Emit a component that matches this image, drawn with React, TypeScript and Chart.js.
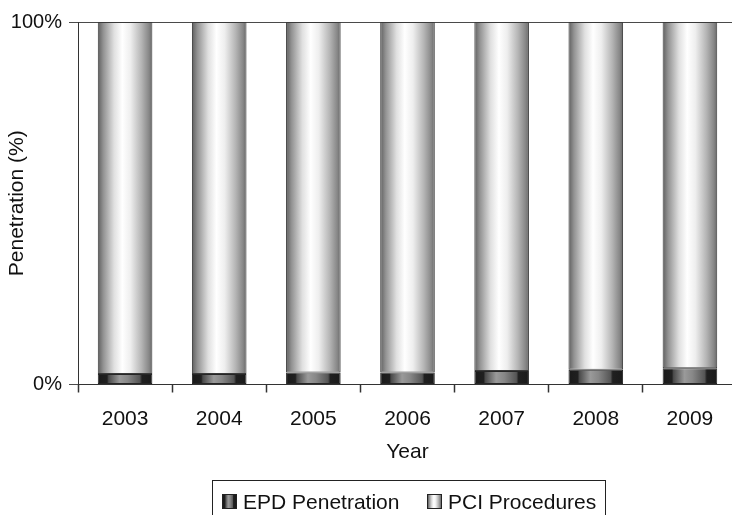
import React, { useEffect, useRef } from 'react';
import { Chart, registerables } from 'chart.js';

Chart.register(...registerables);

// ---- data ----
const years = ['2003', '2004', '2005', '2006', '2007', '2008', '2009'];
const epdPenetration = [2.9, 2.9, 3.3, 3.3, 3.7, 4.1, 4.5];
const pciProcedures = [97.1, 97.1, 96.7, 96.7, 96.3, 95.9, 95.5];
const yTickValues = [0, 100];
const seriesNames = ['EPD Penetration', 'PCI Procedures'];
const xTitle = 'Year';
const yTitle = 'Penetration (%)';

// ---- styles ----
const FONT = '"Liberation Sans", Arial, Helvetica, sans-serif';
const BAR_PCT = 0.58;

const epdStops: [number, string][] = [
  [0, '#1a1a1a'],
  [0.17, '#202020'],
  [0.2, '#4a4a4a'],
  [0.4, '#9a9a9a'],
  [0.55, '#878787'],
  [0.77, '#555555'],
  [0.81, '#202020'],
  [1, '#1a1a1a'],
];
const pciStops: [number, string][] = [
  [0, '#5e5e5e'],
  [0.1, '#929292'],
  [0.3, '#e0e0e0'],
  [0.45, '#ffffff'],
  [0.6, '#eeeeee'],
  [0.8, '#b5b5b5'],
  [0.94, '#868686'],
  [1, '#666666'],
];

function cssGradient(stops: [number, string][]) {
  return `linear-gradient(to right, ${stops.map(([o, c]) => `${c} ${o * 100}%`).join(', ')})`;
}

function barGradient(stops: [number, string][]) {
  return (ctx: any) => {
    const chart = ctx.chart;
    const area = chart.chartArea;
    const xs = chart.scales && chart.scales.x;
    if (!area || !xs || ctx.dataIndex == null) return stops[3][1];
    const cx = xs.getPixelForValue(ctx.dataIndex);
    const w = (area.width / years.length) * BAR_PCT;
    const g = chart.ctx.createLinearGradient(cx - w / 2, 0, cx + w / 2, 0);
    stops.forEach(([o, c]) => g.addColorStop(o, c));
    return g;
  };
}

export default function App() {
  const canvasRef = useRef<HTMLCanvasElement | null>(null);

  useEffect(() => {
    document.body.style.margin = '0';
    const canvas = canvasRef.current;
    if (!canvas) return;
    const chart = new Chart(canvas, {
      type: 'bar',
      data: {
        labels: years,
        datasets: [
          {
            label: seriesNames[0],
            data: epdPenetration,
            backgroundColor: barGradient(epdStops),
            borderColor: '#262626',
            borderWidth: 1,
            borderSkipped: false,
            categoryPercentage: 1,
            barPercentage: BAR_PCT,
          },
          {
            label: seriesNames[1],
            data: pciProcedures,
            backgroundColor: barGradient(pciStops),
            borderColor: '#3a3a3a',
            borderWidth: 1,
            borderSkipped: false,
            categoryPercentage: 1,
            barPercentage: BAR_PCT,
          },
        ],
      },
      options: {
        animation: false,
        responsive: false,
        devicePixelRatio: 1,
        layout: { padding: { left: 0, right: 8, top: 22, bottom: 52 } },
        plugins: {
          legend: { display: false },
          tooltip: { enabled: false },
        },
        scales: {
          x: {
            stacked: true,
            afterFit: (s: any) => {
              s.height = 78.5;
            },
            grid: {
              offset: true,
              drawOnChartArea: false,
              tickLength: 8,
              color: '#333333',
              tickWidth: 1.5,
            },
            border: { color: '#333333', width: 1 },
            ticks: {
              font: { family: FONT, size: 21 },
              color: '#111111',
              padding: 14,
            },
            title: {
              display: true,
              text: xTitle,
              font: { family: FONT, size: 21, lineHeight: 1.0 },
              color: '#111111',
              padding: { top: 0, bottom: 0 },
            },
          },
          y: {
            stacked: true,
            min: 0,
            max: 100,
            afterFit: (s: any) => {
              s.width = 78;
            },
            afterBuildTicks: (s: any) => {
              s.ticks = yTickValues.map((v) => ({ value: v }));
            },
            ticks: {
              stepSize: 100,
              callback: (v: any) => `${v}%`,
              font: { family: FONT, size: 20 },
              color: '#111111',
              padding: 7,
            },
            grid: {
              color: '#4a4a4a',
              tickLength: 9,
              drawOnChartArea: true,
            },
            border: { color: '#333333', width: 1 },
            title: {
              display: true,
              text: yTitle,
              font: { family: FONT, size: 21 },
              color: '#111111',
              padding: { top: 5, bottom: 0 },
            },
          },
        },
      },
    });
    return () => chart.destroy();
  }, []);

  const textStyle: React.CSSProperties = {
    position: 'absolute',
    top: 490.5,
    fontFamily: FONT,
    fontSize: 21,
    lineHeight: '21px',
    color: '#111',
    whiteSpace: 'nowrap',
  };
  const swatch: React.CSSProperties = {
    position: 'absolute',
    top: 494,
    width: 13,
    height: 13,
    border: '1px solid #222',
  };

  return (
    <div
      style={{
        position: 'fixed',
        left: 0,
        top: 0,
        width: 732,
        height: 515,
        overflow: 'hidden',
        background: '#fff',
      }}
    >
      <canvas ref={canvasRef} width={745} height={515} style={{ display: 'block' }} />
      <div
        style={{
          position: 'absolute',
          left: 212,
          top: 480,
          width: 394,
          height: 60,
          border: '1px solid #222',
          boxSizing: 'border-box',
        }}
      />
      <div style={{ ...swatch, left: 222, background: cssGradient(epdStops) }} />
      <span style={{ ...textStyle, left: 243 }}>{seriesNames[0]}</span>
      <div style={{ ...swatch, left: 427, background: cssGradient(pciStops) }} />
      <span style={{ ...textStyle, left: 448 }}>{seriesNames[1]}</span>
    </div>
  );
}
